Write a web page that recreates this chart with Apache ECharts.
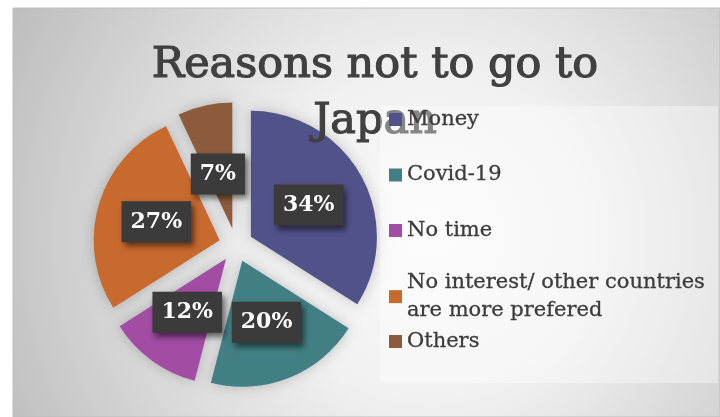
<!DOCTYPE html>
<html>
<head>
<meta charset="utf-8">
<script src="https://cdn.jsdelivr.net/npm/echarts@6/dist/echarts.min.js"></script>
<style>
  html, body { margin: 0; padding: 0; background: #ffffff; }
  #chart { width: 720px; height: 417px; }
</style>
</head>
<body>
<div id="chart"></div>
<script>
// Survey answers: why people would not travel to Japan (share of answers, %)
const categories = ['Money', 'Covid-19', 'No time', 'No interest/ other countries\nare more prefered', 'Others'];
const shares = [34, 20, 12, 27, 7];
const sliceColors = ['#52528a', '#417f84', '#a24ca4', '#c8692e', '#8c5b3b'];
const titleText = 'Reasons not to go to\nJapan';

const serif = "'DejaVu Serif', 'Liberation Serif', serif";

const chart = echarts.init(document.getElementById('chart'), null, { renderer: 'canvas' });

const pieData = categories.map((name, i) => ({
  name: name,
  value: shares[i],
  selected: true,
  itemStyle: { color: sliceColors[i] }
}));

const legendText = {
  fontFamily: serif, fontSize: 21, color: '#3c3c3c', lineHeight: 28,
  textBorderColor: '#3c3c3c', textBorderWidth: 0.3
};

chart.setOption({
  animation: false,
  backgroundColor: '#ffffff',
  graphic: {
    elements: [
      {
        // slide panel with a soft radial light
        type: 'rect',
        z: -10,
        silent: true,
        shape: { x: 13, y: 8, width: 707, height: 409 },
        style: {
          fill: new echarts.graphic.RadialGradient(430, 235, 470, [
            { offset: 0, color: '#fbfbfb' },
            { offset: 0.35, color: '#f1f1f1' },
            { offset: 1, color: '#bebebe' }
          ], true),
          stroke: '#bdbdbd',
          lineWidth: 1
        }
      },
      {
        // translucent legend panel
        type: 'rect',
        z: 20,
        silent: true,
        shape: { x: 380, y: 106, width: 338, height: 277 },
        style: { fill: 'rgba(255,255,255,0.36)' }
      }
    ]
  },
  title: {
    text: titleText,
    left: 370,
    top: 33,
    textAlign: 'center',
    z: 10,
    textStyle: {
      fontFamily: serif,
      fontSize: 43,
      fontWeight: 'normal',
      color: '#404040',
      textBorderColor: '#404040',
      textBorderWidth: 1.2,
      lineHeight: 56
    }
  },
  legend: [
    {
      orient: 'vertical',
      left: 389,
      top: 105.5,
      padding: 0,
      itemGap: 27.5,
      itemWidth: 13,
      itemHeight: 13,
      icon: 'rect',
      selectedMode: false,
      z: 30,
      textStyle: legendText,
      data: [
        { name: categories[0] },
        { name: categories[1] },
        { name: categories[2] },
        { name: categories[3], textStyle: { height: 28 } }
      ]
    },
    {
      orient: 'vertical',
      left: 389,
      top: 327.5,
      padding: 0,
      itemWidth: 13,
      itemHeight: 13,
      icon: 'rect',
      selectedMode: false,
      z: 30,
      textStyle: legendText,
      data: [{ name: categories[4] }]
    }
  ],
  series: [
    {
      type: 'pie',
      z: 5,
      center: [236, 245],
      radius: 126,
      startAngle: 90,
      clockwise: true,
      selectedMode: 'multiple',
      selectedOffset: 17,
      avoidLabelOverlap: false,
      emphasis: { disabled: true, scale: false },
      select: { itemStyle: {} },
      itemStyle: {
        shadowBlur: 14,
        shadowColor: 'rgba(0,0,0,0.22)'
      },
      label: {
        show: true,
        position: 'inside',
        formatter: '{c}%',
        color: '#ffffff',
        fontFamily: serif,
        fontWeight: 'bold',
        fontSize: 22,
        lineHeight: 24,
        backgroundColor: '#3b3b3b',
        padding: [9, 9, 8, 9],
        shadowColor: 'rgba(0,0,0,0.55)',
        shadowBlur: 6,
        shadowOffsetX: 3,
        shadowOffsetY: 4
      },
      labelLine: { show: false },
      labelLayout: function (params) {
        // the small last slice keeps its label a little nearer the centre
        return params.dataIndex === 4 ? { dy: 10 } : {};
      },
      data: pieData
    }
  ]
});
</script>
</body>
</html>
